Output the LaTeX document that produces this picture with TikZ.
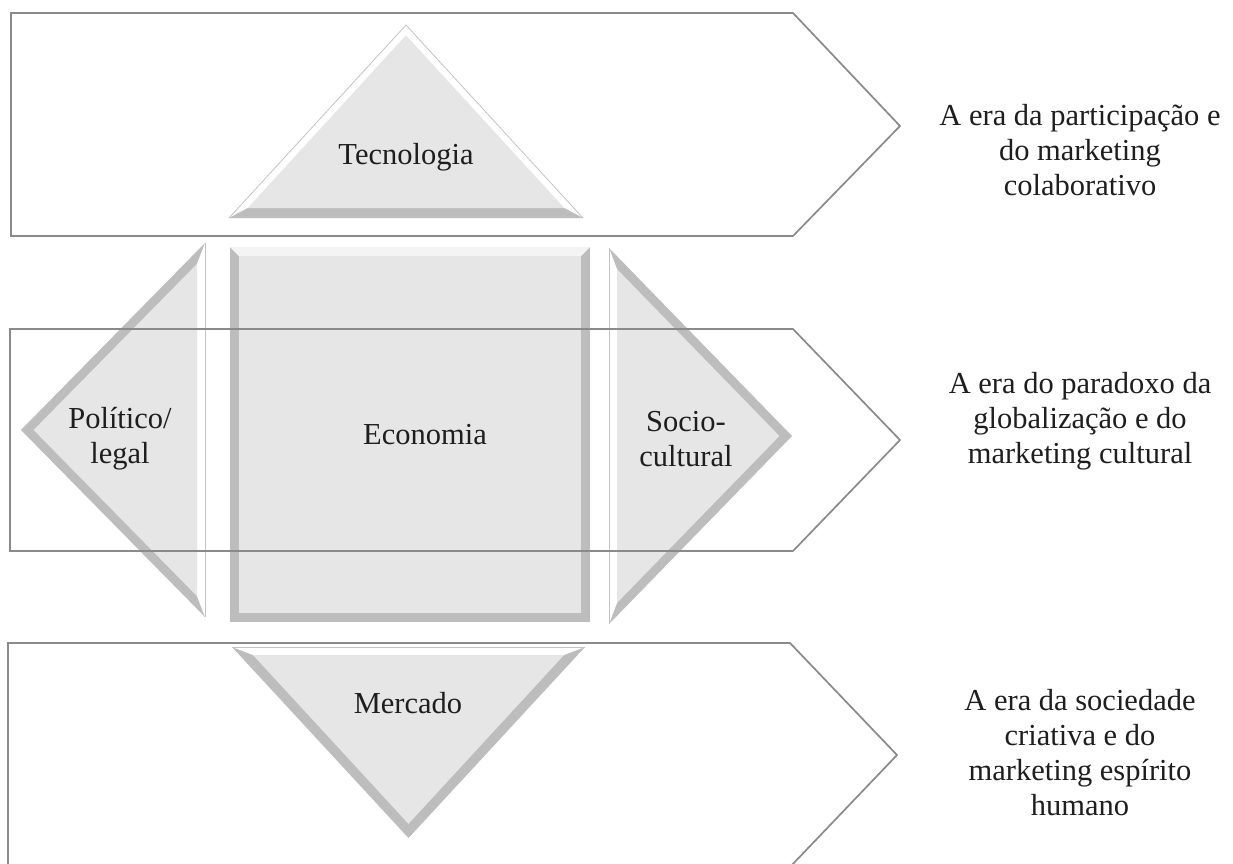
\documentclass[tikz,border=0pt]{standalone}
\usepackage{fontspec}
\setmainfont{Liberation Serif}
\definecolor{band}{HTML}{BDBDBD}
\definecolor{face}{HTML}{E6E6E6}
\definecolor{rim}{HTML}{C4C4C4}
\definecolor{topband}{HTML}{F4F4F4}
\definecolor{arrowline}{HTML}{8A8A8A}
\definecolor{ink}{HTML}{1E1E1E}
\begin{document}
\begin{tikzpicture}[x=1pt,y=-1pt,
  eraarrow/.style={draw=arrowline,line width=1.7pt,line join=miter},
  rimline/.style={draw=rim,line width=0.8pt},
  lbl/.style={font=\fontsize{30.5}{35}\selectfont,text=ink,align=center,inner sep=0pt},
]
\useasboundingbox (0,0) rectangle (1233,863);
\clip (0,0) rectangle (1233,863);
\fill[white] (0,0) rectangle (1233,863);

% era arrows (top and bottom)
\draw[eraarrow] (11,13) -- (793,13) -- (900,126) -- (793,236) -- (11,236) -- cycle;
\draw[eraarrow] (8,643) -- (790,643) -- (897,755) -- (790,867) -- (8,867) -- cycle;

% top triangle
\fill[white] (406,25) -- (229,218) -- (583,218) -- cycle;
\fill[band] (229,218) -- (583,218) -- (564.3,208) -- (247.7,208) -- cycle;
\fill[face] (406,35.3) -- (247.7,208) -- (564.3,208) -- cycle;
\draw[rimline] (229,218) -- (406,25) -- (583,218);

% left triangle
\fill[band] (21,430) -- (205,243) -- (205,617) -- cycle;
\fill[white] (205,243) -- (205,617) -- (197,596.1) -- (197,263.9) -- cycle;
\fill[face] (197,263.9) -- (33.6,430) -- (197,596.1) -- cycle;
\draw[rimline] (205,243) -- (205,617);

% right triangle
\fill[band] (792,436) -- (609,248) -- (609,624) -- cycle;
\fill[white] (609,248) -- (617,269.1) -- (617,602.9) -- (609,624) -- cycle;
\fill[face] (617,269.1) -- (779.4,436) -- (617,602.9) -- cycle;
\draw[rimline] (609,248) -- (609,624);

% bottom triangle
\fill[band] (232,647) -- (585,647) -- (408.5,838) -- cycle;
\fill[white] (232,647) -- (585,647) -- (564,655) -- (253,655) -- cycle;
\fill[face] (253,655) -- (564,655) -- (408.5,823.8) -- cycle;
\draw[rimline] (232,647) -- (585,647);

% centre square
\fill[band] (230,247) rectangle (590,622);
\fill[topband] (230,247) -- (590,247) -- (581,256) -- (239,256) -- cycle;
\fill[face] (239,256) rectangle (581,613);

% middle era arrow drawn on top
\draw[eraarrow] (10,329) -- (793,329) -- (900,440) -- (793,551) -- (10,551) -- cycle;

% labels
\node[lbl] (tec) at (406,157) {Tecnologia};
\node[lbl] (pol) at (120,439) {Político/\\legal};
\node[lbl] (eco) at (425,435) {Economia};
\node[lbl] (soc) at (686,439) {Socio-\\cultural};
\node[lbl] (mer) at (408,703) {Mercado};
\node[lbl] (era1) at (1080,150) {A era da participação e\\do marketing\\colaborativo};
\node[lbl] (era2) at (1080,421) {A era do paradoxo da\\globalização e do\\marketing cultural};
\node[lbl] (era3) at (1080,753) {A era da sociedade\\criativa e do\\marketing espírito\\humano};
\end{tikzpicture}
\end{document}
